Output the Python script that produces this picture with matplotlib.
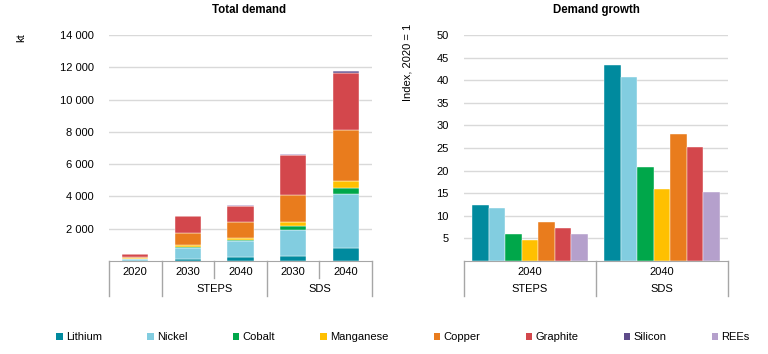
import matplotlib
matplotlib.use("Agg")
import matplotlib.pyplot as plt
from matplotlib.patches import Patch
from matplotlib.ticker import FuncFormatter
import numpy as np

plt.rcParams['font.family'] = ['Liberation Sans', 'DejaVu Sans']
plt.rcParams['font.size'] = 8

# ------------------ DATA ------------------
materials = ['Lithium', 'Nickel', 'Cobalt', 'Manganese', 'Copper', 'Graphite', 'Silicon', 'REEs']
colors = ['#008A9E', '#82CDE0', '#00A74A', '#FFC000', '#E97C1D', '#D3474C', '#5E4B8A', '#B5A0CC']

# Total demand (kt)
years_total = ['2020', '2030', '2040', '2030', '2040']
lithium   = [30, 145, 230, 330, 830]
nickel    = [90, 640, 990, 1590, 3300]
cobalt    = [20, 82, 100, 250, 410]
manganese = [20, 124, 105, 270, 410]
copper    = [110, 723, 990, 1650, 3160]
graphite  = [140, 1053, 1010, 2480, 3550]
silicon   = [0, 5, 5, 10, 80]
rees      = [5, 15, 20, 20, 30]
stacks = [lithium, nickel, cobalt, manganese, copper, graphite, silicon, rees]

# Demand growth (index, 2020 = 1)
growth_materials = ['Lithium', 'Nickel', 'Cobalt', 'Manganese', 'Copper', 'Graphite', 'REEs']
growth_steps = [12.4, 11.7, 6.0, 4.6, 8.6, 7.2, 6.0]
growth_sds   = [43.3, 40.8, 20.8, 15.9, 28.2, 25.2, 15.3]

W, H = 768, 354
fig = plt.figure(figsize=(W / 100, H / 100), dpi=100)

def px_axes(x0, x1, y0, y1):
    return fig.add_axes([x0 / W, 1 - y1 / H, (x1 - x0) / W, (y1 - y0) / H])

axL = px_axes(109, 372, 35, 261)
axR = px_axes(464, 728, 35, 261)

grid_c = '#D9D9D9'
line_c = '#A6A6A6'

def style(ax):
    for s in ['top', 'right', 'left']:
        ax.spines[s].set_visible(False)
    ax.spines['bottom'].set_color(line_c)
    ax.tick_params(axis='y', length=0, pad=11, labelsize=8)
    ax.tick_params(axis='x', length=0, labelbottom=False)
    ax.yaxis.grid(True, color=grid_c, linewidth=1)
    ax.set_axisbelow(True)

def sep(ax, x, frac):
    ax.plot([x, x], [0, -frac], transform=ax.get_xaxis_transform(),
            color=line_c, linewidth=1, clip_on=False)

# ------------------ LEFT: Total demand ------------------
x = np.arange(len(years_total))
bottom = np.zeros(len(years_total))
for vals, c in zip(stacks, colors):
    axL.bar(x, vals, 0.5, bottom=bottom, color=c, edgecolor='white', linewidth=0.3)
    bottom += np.array(vals)
axL.set_xlim(-0.5, 4.5)
axL.set_ylim(0, 14000)
axL.set_yticks(range(2000, 14001, 2000))
axL.yaxis.set_major_formatter(FuncFormatter(lambda v, p: f'{int(v):,}'.replace(',', ' ')))
style(axL)
for xi, yr in zip(x, years_total):
    axL.text(xi, -0.049, yr, transform=axL.get_xaxis_transform(), ha='center', va='center')
axL.text(1.5, -0.124, 'STEPS', transform=axL.get_xaxis_transform(), ha='center', va='center')
axL.text(3.5, -0.124, 'SDS', transform=axL.get_xaxis_transform(), ha='center', va='center')
for xs in [-0.5, 0.5, 2.5, 4.5]:
    sep(axL, xs, 0.155)
for xs in [1.5, 3.5]:
    sep(axL, xs, 0.075)
fig.text(249 / W, 1 - 10 / H, 'Total demand', ha='center', va='center', fontweight='bold',
         fontsize=8.3)
fig.text(21 / W, 1 - 38 / H, 'kt', rotation=90, ha='center', va='center')

# ------------------ RIGHT: Demand growth ------------------
n = len(growth_materials)
bw = 0.88 / n
gcolors = [colors[materials.index(m)] for m in growth_materials]
for gi, vals in enumerate([growth_steps, growth_sds]):
    offs = gi - 0.44 + bw * (np.arange(n) + 0.5)
    axR.bar(offs, vals, bw, color=gcolors, edgecolor='white', linewidth=0.3)
axR.set_xlim(-0.5, 1.5)
axR.set_ylim(0, 50)
axR.set_yticks(range(5, 51, 5))
style(axR)
for gi, grp in enumerate(['STEPS', 'SDS']):
    axR.text(gi, -0.049, '2040', transform=axR.get_xaxis_transform(), ha='center', va='center')
    axR.text(gi, -0.124, grp, transform=axR.get_xaxis_transform(), ha='center', va='center')
for xs in [-0.5, 0.5, 1.5]:
    sep(axR, xs, 0.155)
fig.text(596 / W, 1 - 10 / H, 'Demand growth', ha='center', va='center', fontweight='bold',
         fontsize=8.3)
fig.text(408 / W, 1 - 62 / H, 'Index, 2020 = 1', rotation=90, ha='center', va='center')

# ------------------ LEGEND ------------------
handles = [Patch(facecolor=c, edgecolor='none', label=m) for m, c in zip(materials, colors)]
fig.legend(handles=handles, loc='center', bbox_to_anchor=(403 / W, 1 - 337 / H), ncol=8,
           frameon=False, handlelength=0.6, handleheight=0.6, handletextpad=0.3,
           columnspacing=4.05, fontsize=8)

fig.savefig('out.png', dpi=100)
